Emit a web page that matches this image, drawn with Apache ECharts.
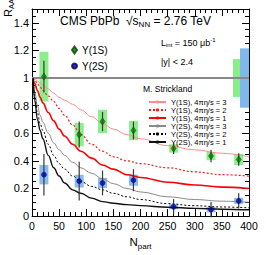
<!DOCTYPE html>
<html><head><meta charset="utf-8">
<script src="https://cdn.jsdelivr.net/npm/echarts@6/dist/echarts.min.js"></script>
<style>html,body{margin:0;padding:0;background:#fff}#c{width:266px;height:255px}</style>
</head><body><div id="c"></div>
<script>
// ---- data ----
const nPart = [22, 87, 130, 187, 261, 330, 381];
const raa1S = [1.01, 0.59, 0.685, 0.62, 0.49, 0.435, 0.41];
const stat1S = [0.115, 0.095, 0.07, 0.065, 0.04, 0.045, 0.045];
const syst1S = [0.18, 0.085, 0.085, 0.07, 0.03, 0.03, 0.04];
const raa2S = [0.30, 0.253, 0.24, 0.26, 0.068, 0.047, 0.11];
const stat2S = [0.15, 0.14, 0.09, 0.08, 0.055, 0.055, 0.055];
const syst2S = [0.07, 0.046, 0.037, 0.04, 0.018, 0.02, 0.023];
const global1S = 0.137;
const global2S = 0.215;
const unityX = [0, 400];
const unityR = 1;

const modelN   = [2, 5, 10, 15, 20, 30, 40, 50, 60, 75, 90, 110, 130, 150, 175, 200, 250, 300, 350, 400];
const m1S_eta3 = [1.0, 0.995, 0.98, 0.965, 0.95, 0.92, 0.89, 0.86, 0.84, 0.81, 0.77, 0.72, 0.67, 0.63, 0.59, 0.56, 0.51, 0.48, 0.455, 0.43];
const m1S_eta2 = [1.0, 0.985, 0.96, 0.935, 0.91, 0.87, 0.83, 0.78, 0.73, 0.66, 0.59, 0.52, 0.47, 0.43, 0.40, 0.38, 0.35, 0.32, 0.30, 0.29];
const m1S_eta1 = [1.0, 0.96, 0.91, 0.86, 0.82, 0.75, 0.69, 0.63, 0.58, 0.52, 0.47, 0.42, 0.37, 0.34, 0.30, 0.28, 0.245, 0.225, 0.21, 0.20];
const m2S_eta3 = [1.0, 0.90, 0.80, 0.73, 0.68, 0.60, 0.53, 0.48, 0.44, 0.39, 0.35, 0.31, 0.27, 0.235, 0.20, 0.175, 0.14, 0.12, 0.108, 0.10];
const m2S_eta2 = [1.0, 0.87, 0.75, 0.67, 0.62, 0.52, 0.44, 0.38, 0.34, 0.29, 0.25, 0.215, 0.19, 0.165, 0.14, 0.12, 0.09, 0.075, 0.066, 0.06];
const m2S_eta1 = [1.0, 0.84, 0.70, 0.62, 0.56, 0.44, 0.35, 0.29, 0.24, 0.19, 0.165, 0.13, 0.105, 0.093, 0.083, 0.076, 0.064, 0.056, 0.05, 0.045];

const xTicks = [0, 50, 100, 150, 200, 250, 300, 350, 400];
const yTicks = [0, 0.2, 0.4, 0.6, 0.8, 1, 1.2, 1.4];

// ---- build ----
const FONT = 'Liberation Sans, Arial, sans-serif';
const zipPts = (xs, ys) => xs.map((x, i) => [x, ys[i]]);
const bands = (vals, errs) => nPart.map((x, i) => [x, vals[i] - errs[i], vals[i] + errs[i]]);

function boxItem(color) {
  return function (params, api) {
    const x = api.value(0);
    const lo = api.coord([x, api.value(1)]);
    const hi = api.coord([x, api.value(2)]);
    return { type: 'rect', shape: { x: lo[0] - 4.5, y: hi[1], width: 9, height: lo[1] - hi[1] }, style: { fill: color } };
  };
}
function errItem(params, api) {
  const x = api.value(0);
  const lo = api.coord([x, api.value(1)]);
  const hi = api.coord([x, api.value(2)]);
  return { type: 'line', shape: { x1: lo[0], y1: lo[1], x2: hi[0], y2: hi[1] }, style: { stroke: '#3a3a3a', lineWidth: 1.2 } };
}
function globalItem(params, api) {
  const right = api.coord([unityX[1], 0])[0];
  const lo = api.coord([unityX[1], api.value(1)]);
  const hi = api.coord([unityX[1], api.value(2)]);
  const is2S = params.dataIndex === 1;
  const x0 = is2S ? right - 9 : right - 16;
  return { type: 'rect', shape: { x: x0, y: hi[1], width: is2S ? 9 : 7, height: lo[1] - hi[1] }, style: { fill: is2S ? '#80b8ee' : '#88ee88' } };
}

const GREEN_BOX = '#8cee8c', BLUE_BOX = '#88bbee';

function modelLine(name, ys, color, width, type) {
  return { name, type: 'line', data: zipPts(modelN, ys), smooth: 0.4, smoothMonotone: 'x', symbol: 'none',
    lineStyle: { color, width, type }, itemStyle: { color }, z: 3, silent: true };
}

const axisCommon = {
  type: 'value', axisLine: { show: true, onZero: false, lineStyle: { color: '#000', width: 1 } },
  axisTick: { show: true, inside: true, length: 7, lineStyle: { color: '#000' } },
  minorTick: { show: true, length: 4, lineStyle: { color: '#000' } },
  splitLine: { show: false }
};

const option = {
  animation: false,
  backgroundColor: '#fff',
  textStyle: { fontFamily: FONT },
  grid: { left: 32, right: 17, top: 9, bottom: 31 },
  xAxis: [
    Object.assign({}, axisCommon, { min: xTicks[0], max: xTicks[xTicks.length - 1], interval: 50,
      minorTick: Object.assign({}, axisCommon.minorTick, { splitNumber: 5 }),
      axisLabel: { fontSize: 10.5, color: '#000', margin: 4, fontFamily: FONT },
      name: '{n|N}{s|part}', nameLocation: 'middle', nameGap: 17,
      nameTextStyle: { rich: { n: { fontSize: 11.5, fontFamily: FONT, color: '#000' }, s: { fontSize: 8, fontFamily: FONT, color: '#000', padding: [8, 0, 0, 0] } } } }),
    Object.assign({}, axisCommon, { position: 'top', min: 0, max: 400, interval: 50,
      minorTick: Object.assign({}, axisCommon.minorTick, { splitNumber: 5 }), axisLabel: { show: false } })
  ],
  yAxis: [
    Object.assign({}, axisCommon, { min: 0, max: 1.5, interval: 0.2,
      minorTick: Object.assign({}, axisCommon.minorTick, { splitNumber: 4 }),
      axisLabel: { fontSize: 11, color: '#000', margin: 3, fontFamily: FONT,
        formatter: v => (yTicks.some(t => Math.abs(t - v) < 1e-6) ? String(+v.toFixed(1)) : '') } }),
    Object.assign({}, axisCommon, { position: 'right', min: 0, max: 1.5, interval: 0.2,
      minorTick: Object.assign({}, axisCommon.minorTick, { splitNumber: 4 }), axisLabel: { show: false } })
  ],
  legend: [
    { data: ['\u03a5(1S)', '\u03a5(2S)'], orient: 'vertical', left: 66, top: 40, itemWidth: 5, itemHeight: 7, itemGap: 6,
      textStyle: { fontSize: 10, fontFamily: FONT, color: '#000' }, selectedMode: false },
    { data: ['\u03a5(1S), 4\u03c0\u03b7/s = 3', '\u03a5(1S), 4\u03c0\u03b7/s = 2', '\u03a5(1S), 4\u03c0\u03b7/s = 1',
             '\u03a5(2S), 4\u03c0\u03b7/s = 3', '\u03a5(2S), 4\u03c0\u03b7/s = 2', '\u03a5(2S), 4\u03c0\u03b7/s = 1'],
      orient: 'vertical', left: 143, top: 93, itemWidth: 17, itemHeight: 4, itemGap: 0,
      textStyle: { fontSize: 7.5, lineHeight: 7, fontFamily: FONT, color: '#000' }, selectedMode: false }
  ],
  graphic: [
    { type: 'text', left: 60, top: 15, style: { rich: {
        a: { fontSize: 12, fontFamily: FONT, fill: '#000' },
        r: { fontSize: 12, fontFamily: FONT, fill: '#000' },
        s: { fontSize: 8, fontFamily: FONT, fill: '#000', padding: [7, 0, 0, 0] } },
      text: '{a|CMS PbPb  }{r|\u221As}{s|NN}{a| = 2.76 TeV}' } },
    { type: 'text', left: 161, top: 37, style: { rich: {
        a: { fontSize: 9, fontFamily: FONT, fill: '#000' },
        s: { fontSize: 6, fontFamily: FONT, fill: '#000', padding: [5, 0, 0, 0] },
        u: { fontSize: 6, fontFamily: FONT, fill: '#000', padding: [0, 0, 5, 0] } },
      text: '{a|L}{s|int}{a| = 150 \u03bcb}{u|-1}' } },
    { type: 'text', left: 161, top: 57, style: { text: '|y| < 2.4', fontSize: 9, fontFamily: FONT, fill: '#000' } },
    { type: 'text', left: 143, top: 84, style: { text: 'M. Strickland', fontSize: 8.5, fontFamily: FONT, fill: '#000' } },
    { type: 'text', x: 1, y: 17, rotation: Math.PI / 2, originX: 0, originY: 0, style: { rich: {
        a: { fontSize: 11, fontFamily: FONT, fill: '#000' },
        s: { fontSize: 7.5, fontFamily: FONT, fill: '#000', padding: [6, 0, 0, 0] } },
      text: '{a|R}{s|AA}' } }
  ],
  series: [
    { type: 'custom', name: 'box1S', data: bands(raa1S, syst1S), renderItem: boxItem(GREEN_BOX), encode: { x: 0, y: [1, 2] }, z: 1, silent: true },
    { type: 'custom', name: 'box2S', data: bands(raa2S, syst2S), renderItem: boxItem(BLUE_BOX), encode: { x: 0, y: [1, 2] }, z: 1, silent: true },
    { type: 'custom', name: 'global', data: [[unityX[1], unityR - global1S, unityR + global1S], [unityX[1], unityR - global2S, unityR + global2S]],
      renderItem: globalItem, encode: { x: 0, y: [1, 2] }, z: 1, silent: true },
    { type: 'line', name: 'unity', data: unityX.map(x => [x, unityR]), symbol: 'none', lineStyle: { color: '#888', width: 2 }, z: 2, silent: true },
    modelLine('\u03a5(1S), 4\u03c0\u03b7/s = 3', m1S_eta3, '#ff8c8c', 1, 'solid'),
    modelLine('\u03a5(1S), 4\u03c0\u03b7/s = 2', m1S_eta2, '#ff1a1a', 1.2, [2, 2]),
    modelLine('\u03a5(1S), 4\u03c0\u03b7/s = 1', m1S_eta1, '#ff0000', 1.6, 'solid'),
    modelLine('\u03a5(2S), 4\u03c0\u03b7/s = 3', m2S_eta3, '#8a8a8a', 1, 'solid'),
    modelLine('\u03a5(2S), 4\u03c0\u03b7/s = 2', m2S_eta2, '#000000', 1, [2, 2]),
    modelLine('\u03a5(2S), 4\u03c0\u03b7/s = 1', m2S_eta1, '#111111', 1.4, 'solid'),
    { type: 'custom', name: 'err1S', data: bands(raa1S, stat1S), renderItem: errItem, encode: { x: 0, y: [1, 2] }, z: 4, silent: true },
    { type: 'custom', name: 'err2S', data: bands(raa2S, stat2S), renderItem: errItem, encode: { x: 0, y: [1, 2] }, z: 4, silent: true },
    { type: 'scatter', name: '\u03a5(1S)', data: zipPts(nPart, raa1S), symbol: 'diamond', symbolSize: [5, 7],
      itemStyle: { color: '#0a7a0a', borderColor: '#004400', borderWidth: 0.6 }, z: 5 },
    { type: 'scatter', name: '\u03a5(2S)', data: zipPts(nPart, raa2S), symbol: 'circle', symbolSize: 5,
      itemStyle: { color: '#0000b0', borderColor: '#000066', borderWidth: 0.6 }, z: 5 }
  ]
};
const chart = echarts.init(document.getElementById('c'), null, { renderer: 'svg' });
chart.setOption(option);
</script>
</body></html>
